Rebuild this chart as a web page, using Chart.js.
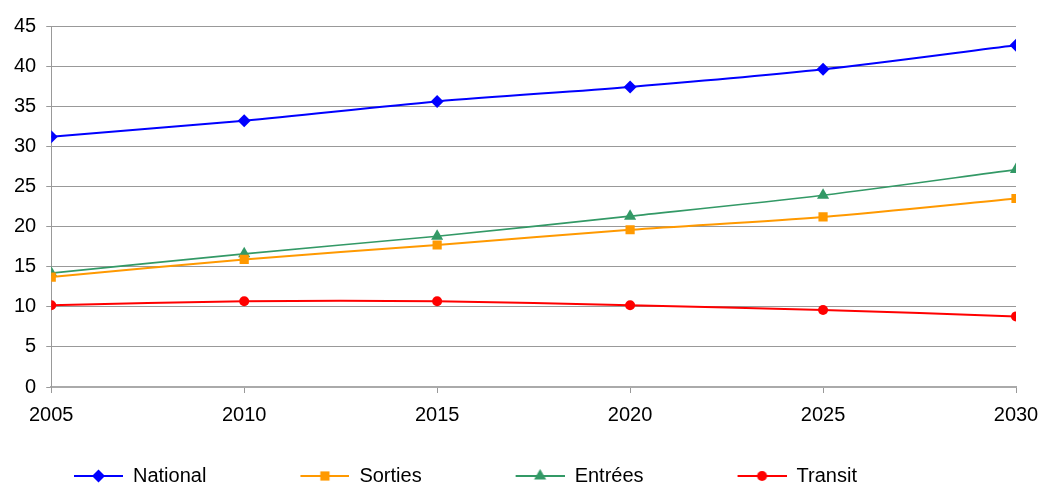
<!DOCTYPE html>
<html>
<head>
<meta charset="utf-8">
<script src="https://cdn.jsdelivr.net/npm/chart.js@4"></script>
<style>
    html, body { margin: 0; padding: 0; background: #fff; }
    #wrap { width: 1041px; height: 487px; }
</style>
</head>
<body>
<div id="wrap"><canvas id="chart"></canvas></div>
<script>
var years = [2005, 2010, 2015, 2020, 2025, 2030];
var national = [31.2, 33.2, 35.6, 37.4, 39.6, 42.6];
var sorties = [13.7, 15.9, 17.7, 19.6, 21.2, 23.5];
var entrees = [14.2, 16.6, 18.8, 21.3, 23.9, 27.1];
var transit = [10.2, 10.7, 10.7, 10.2, 9.6, 8.8];
var yMin = 0, yMax = 45, yStep = 5;
var xStep = 5;

Chart.defaults.font.family = '"Liberation Sans", Arial, sans-serif';
Chart.defaults.color = '#000';

// legend swatch: blank lead-in (acts as spacing), then a short line with the marker
var ICON_W = 133, LINE_W = 49;
function legendIcon(color, style, radius) {
    var c = document.createElement('canvas');
    c.width = ICON_W;
    c.height = 18;
    var g = c.getContext('2d');
    g.strokeStyle = color;
    g.lineWidth = 2;
    g.beginPath();
    g.moveTo(ICON_W - LINE_W, 9);
    g.lineTo(ICON_W, 9);
    g.stroke();
    g.fillStyle = color;
    Chart.helpers.drawPoint(g, {pointStyle: style, radius: radius, rotation: 0, borderWidth: 0}, ICON_W - LINE_W / 2, 9);
    return c;
}

function series(label, values, color, style, radius, width) {
    return {
        label: label,
        data: years.map(function (x, i) { return {x: x, y: values[i]}; }),
        borderColor: color,
        backgroundColor: color,
        borderWidth: width,
        pointStyle: style,
        pointRadius: radius,
        pointBorderWidth: 0,
        pointBackgroundColor: color,
        tension: 0.3,
        icon: legendIcon(color, style, radius)
    };
}

var datasets = [
    series('National', national, '#0000ff', 'rectRot', 6.5, 2),
    series('Sorties', sorties, '#ff9900', 'rect', 6.5, 2),
    series('Entrées', entrees, '#339966', 'triangle', 7, 1.6),
    series('Transit', transit, '#ff0000', 'circle', 5, 2)
];

// move the legend row into place after the layout pass
var legendNudge = {
    id: 'legendNudge',
    afterLayout: function (chart) {
        var lg = chart.legend;
        lg.left -= 24; lg.right -= 24;
        lg.top += 9; lg.bottom += 9;
    }
};

new Chart(document.getElementById('chart'), {
    type: 'line',
    data: {datasets: datasets},
    plugins: [legendNudge],
    options: {
        responsive: true,
        maintainAspectRatio: false,
        animation: false,
        layout: {padding: {left: 4, right: 0, top: 26, bottom: 0}},
        plugins: {
            tooltip: {enabled: false},
            legend: {
                position: 'bottom',
                align: 'start',
                labels: {
                    usePointStyle: true,
                    pointStyleWidth: ICON_W,
                    padding: 10,
                    font: {size: 20},
                    color: '#000',
                    generateLabels: function (chart) {
                        var items = Chart.defaults.plugins.legend.labels.generateLabels(chart);
                        items.forEach(function (item, i) {
                            item.pointStyle = chart.data.datasets[i].icon;
                        });
                        return items;
                    }
                }
            }
        },
        scales: {
            x: {
                type: 'linear',
                min: years[0],
                max: years[years.length - 1],
                ticks: {
                    stepSize: xStep,
                    font: {size: 20},
                    padding: 10,
                    callback: function (v) { return String(v); }
                },
                grid: {drawOnChartArea: false, tickLength: 6, color: '#999'},
                border: {color: '#aaa', width: 2},
                afterFit: function (scale) {
                    scale.height = 60;
                    scale.paddingRight = 25;
                }
            },
            y: {
                min: yMin,
                max: yMax,
                ticks: {stepSize: yStep, font: {size: 20}, padding: 10},
                grid: {color: '#999', tickLength: 5},
                border: {color: '#999'}
            }
        }
    }
});
</script>
</body>
</html>
